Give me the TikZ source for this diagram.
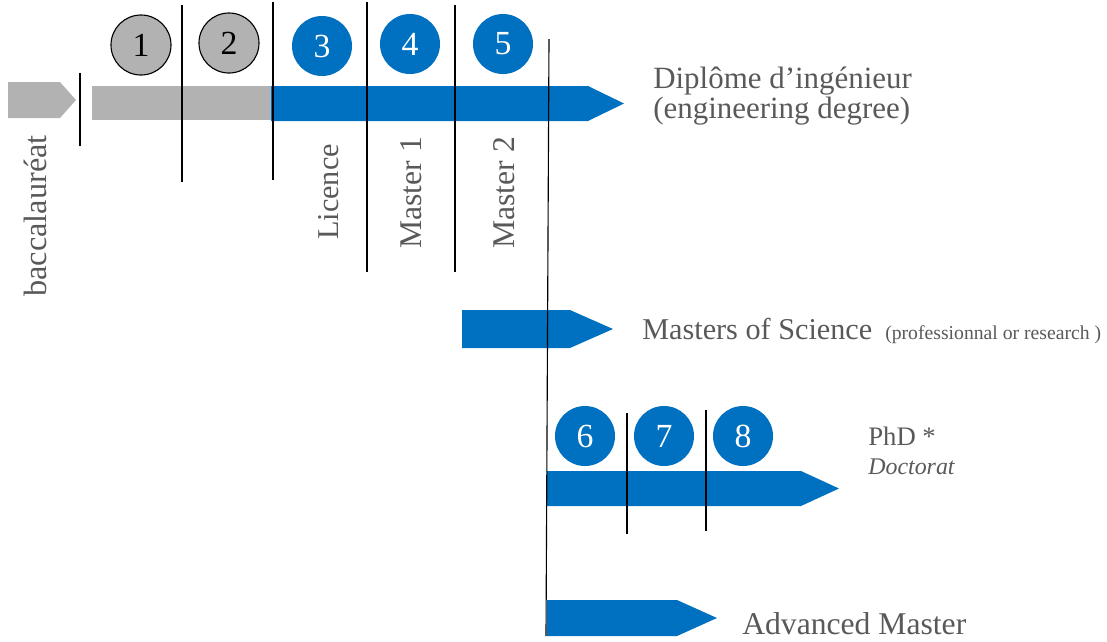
\documentclass[tikz,border=0pt]{standalone}
\usepackage{fontspec}
\setmainfont{Liberation Serif}
\definecolor{db}{HTML}{0070C0}
\definecolor{lg}{HTML}{B2B2B2}
\definecolor{tg}{HTML}{595959}
\newcommand{\fs}[1]{\fontsize{#1}{#1}\selectfont}

\begin{document}
\begin{tikzpicture}[x=0.025cm,y=-0.025cm,
    yr/.style={circle,inner sep=0pt,minimum size=1.5cm,font=\fs{24}},
    yb/.style={yr,fill=db,text=white},
    yg/.style={yr,fill=lg,draw=black,line width=0.8pt},
    lbl/.style={text=tg,inner sep=0pt,font=\fs{21.5}},
    sep/.style={line width=0.8pt}]%
  \useasboundingbox (0,0) rectangle (1107,641);
  % bars
  \fill[lg] (8,82) -- (60,82) -- (76,100) -- (60,118) -- (8,118) -- cycle;
  \fill[lg] (92,86) rectangle (272,120);
  \fill[db] (271,86) -- (588,86) -- (624,103.5) -- (588,121) -- (271,121) -- cycle;
  \fill[db] (462,310) -- (570,310) -- (613,329) -- (570,348) -- (462,348) -- cycle;
  \fill[db] (547,471) -- (801,471) -- (839,488.5) -- (801,506) -- (547,506) -- cycle;
  \fill[db] (547,600) -- (677,600) -- (717,618) -- (677,636) -- (547,636) -- cycle;
  % year marks
  \draw[sep] (80,73) -- (80,146);
  \draw[sep] (182,5) -- (182,182);
  \draw[sep] (273,2) -- (273,180);
  \draw[sep] (367,2) -- (367,272);
  \draw[sep] (455,5) -- (455,272);
  \draw[sep] (549,39) -- (546,636);
  \draw[sep] (627,413) -- (627,534);
  \draw[sep] (706,410) -- (706,531);
  % years
  \node[yg] (y1) at (141,45) {1};
  \node[yg] (y2) at (229,43) {2};
  \node[yb] (y3) at (322,46) {3};
  \node[yb] (y4) at (410,44) {4};
  \node[yb] (y5) at (503,44) {5};
  \node[yb] (y6) at (585,436) {6};
  \node[yb] (y7) at (664,436) {7};
  \node[yb] (y8) at (743,436) {8};
  % labels
  \node[lbl,rotate=90,anchor=west,font=\fs{23}] (bac) at (35,297) {baccalauréat};
  \node[lbl,rotate=90,anchor=west] (lic) at (329,240) {Licence};
  \node[lbl,rotate=90,anchor=west,font=\fs{22.5}] (m1) at (411,249) {Master 1};
  \node[lbl,rotate=90,anchor=west,font=\fs{22.5}] (m2) at (504.5,249) {Master 2};
  \node[lbl,anchor=base west,align=left,font=\fontsize{22}{21}\selectfont] (ing) at (653,118)
    {Diplôme d’ingénieur\\(engineering degree)};
  \node[lbl,anchor=base west] (msc) at (642,339) {Masters of Science};
  \node[lbl,anchor=base west,font=\fs{14}] (res) at (885,339) {(professionnal or research )};
  \node[lbl,anchor=base west,font=\fs{19}] (phd) at (868,445) {PhD *};
  \node[lbl,anchor=base west,font=\itshape\fs{17}] (doc) at (868,474) {Doctorat};
  \node[lbl,anchor=base west,font=\fs{22.5}] (adv) at (742,634) {Advanced Master};
\end{tikzpicture}
\end{document}
